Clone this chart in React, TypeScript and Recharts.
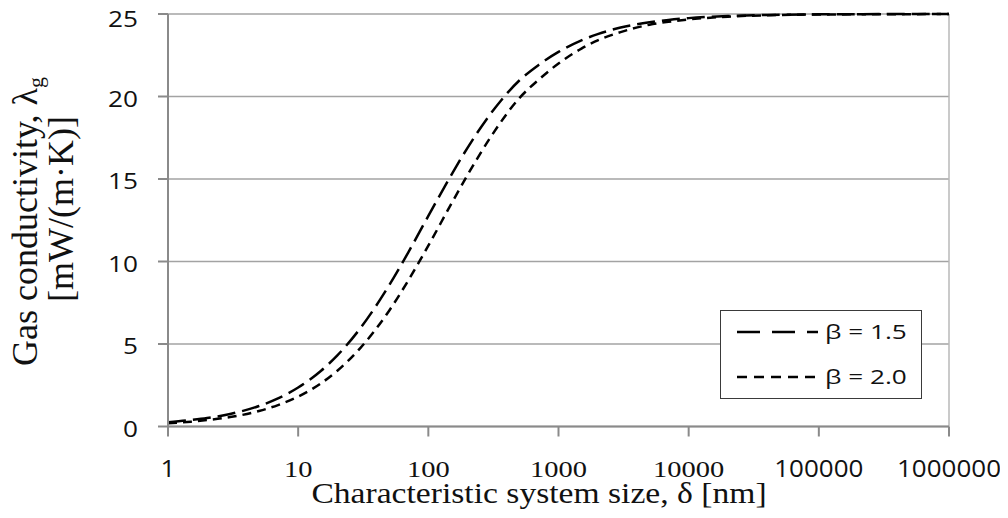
import React from 'react';
import { LineChart, Line, XAxis, YAxis, CartesianGrid, Legend, ReferenceLine } from 'recharts';

// Characteristic system size, δ [nm]
const deltaNm = [1, 1.5, 2, 3, 5, 7, 10, 15, 20, 30, 50, 70, 100, 150, 200, 300, 500, 700, 1000, 1500, 2000, 3000, 5000, 7000, 10000, 20000, 50000, 100000, 200000, 500000, 1000000];
// Gas conductivity, λg [mW/(m·K)]
const lambdaBeta15 = [0.26, 0.39, 0.51, 0.76, 1.24, 1.7, 2.36, 3.38, 4.31, 5.95, 8.56, 10.54, 12.76, 15.24, 16.89, 18.94, 20.97, 21.9, 22.7, 23.4, 23.78, 24.18, 24.5, 24.64, 24.75, 24.88, 24.95, 24.98, 24.99, 25.0, 25.0];
const lambdaBeta20 = [0.19, 0.29, 0.39, 0.57, 0.94, 1.3, 1.81, 2.62, 3.38, 4.75, 7.02, 8.84, 10.96, 13.49, 15.24, 17.52, 19.9, 21.0, 22.0, 22.9, 23.4, 23.9, 24.35, 24.53, 24.67, 24.84, 24.94, 24.97, 24.98, 24.99, 25.0];

const xTicks = [1, 10, 100, 1000, 10000, 100000, 1000000];
const xTickLabels = ['1', '10', '100', '1000', '10000', '100000', '1000000'];
const serifXTicks = [10, 100, 1000, 10000];
const yTicks = [0, 5, 10, 15, 20, 25];
const seriesNames = ['β = 1.5', 'β = 2.0'];

const xTitle = 'Characteristic system size, δ [nm]';
const yTitleLine1 = 'Gas conductivity, λ';
const yTitleSub = 'g';
const yTitleLine2 = '[mW/(m·K)]';

const data = deltaNm.map((d, i) => ({ delta: d, b15: lambdaBeta15[i], b20: lambdaBeta20[i] }));

const SANS = "'Open Sans', 'Liberation Sans', sans-serif";
const SERIF = "'Liberation Serif', 'Times New Roman', serif";

function XTick(props: any) {
  const { x, y, payload } = props;
  const v = payload.value;
  const serif = serifXTicks.indexOf(v) >= 0;
  const idx = xTicks.indexOf(v);
  const label = idx >= 0 ? xTickLabels[idx] : String(v);
  return (
    <g transform={`translate(${x},${y + 40.5}) scale(${serif ? 1.24 : 1.13},1)`}>
      <text x={0} y={0} textAnchor="middle" fontFamily={serif ? SERIF : SANS} fontSize={serif ? 23 : 23} fill="#111">
        {label}
      </text>
    </g>
  );
}

function YTick(props: any) {
  const { x, y, payload } = props;
  return (
    <g transform={`translate(${x},${y + 10}) scale(1.19,1)`}>
      <text x={0} y={0} textAnchor="end" fontFamily={SANS} fontSize={22} fill="#111">
        {String(payload.value)}
      </text>
    </g>
  );
}

function XTitle(props: any) {
  const vb = props.viewBox || { x: 160, y: 418.5, width: 781, height: 60 };
  return (
    <g transform={`translate(${vb.x + 371},${vb.y + 76}) scale(1.12,1)`}>
      <text x={0} y={0} textAnchor="middle" fontFamily={SERIF} fontSize={30} fill="#111">
        {xTitle}
      </text>
    </g>
  );
}

function YTitle(props: any) {
  const vb = props.viewBox || { x: 0, y: 6, width: 160, height: 412.5 };
  return (
    <g>
      <text
        transform={`translate(${vb.x + 29},${vb.y + 207.5}) rotate(-90)`}
        textAnchor="middle"
        fontFamily={SERIF}
        fontSize={36}
        fill="#111"
      >
        {yTitleLine1}
        <tspan fontSize={22} dy={6}>{yTitleSub}</tspan>
      </text>
      <text
        transform={`translate(${vb.x + 65},${vb.y + 195}) rotate(-90)`}
        textAnchor="middle"
        fontFamily={SERIF}
        fontSize={36}
        fill="#111"
      >
        {yTitleLine2}
      </text>
    </g>
  );
}

function LegendBox() {
  return (
    <div
      style={{
        width: 202,
        height: 89,
        boxSizing: 'border-box',
        border: '1.5px solid #3a3a3a',
        background: '#fff',
      }}
    >
      <svg width={199} height={86} style={{ display: 'block' }}>
        <line x1={16} y1={21} x2={97} y2={21} stroke="#000" strokeWidth={2.5} strokeDasharray="23 12" />
        <g transform="translate(104,28) scale(1.31,1)">
          <text x={0} y={0} fontFamily={SANS} fontSize={20} fill="#111">{seriesNames[0]}</text>
        </g>
        <line x1={16} y1={66} x2={97} y2={66} stroke="#000" strokeWidth={2.5} strokeDasharray="10 7" />
        <g transform="translate(104,73) scale(1.31,1)">
          <text x={0} y={0} fontFamily={SANS} fontSize={20} fill="#111">{seriesNames[1]}</text>
        </g>
      </svg>
    </div>
  );
}

export default function App() {
  return (
    <div style={{ width: 1000, height: 510, background: '#fff' }}>
      <LineChart width={1000} height={510} data={data} margin={{ top: 6, right: 59, bottom: 31.5, left: 0 }}>
        <CartesianGrid vertical={false} stroke="#a3a3a3" strokeWidth={1.5} />
        <ReferenceLine x={1000000} stroke="#b8b8b8" strokeWidth={1.5} />
        <XAxis
          dataKey="delta"
          type="number"
          scale="log"
          domain={[1, 1000000]}
          ticks={xTicks}
          height={60}
          tickSize={10}
          tickMargin={0}
          tick={<XTick />}
          axisLine={{ stroke: '#8a8a8a', strokeWidth: 2 }}
          tickLine={{ stroke: '#8a8a8a', strokeWidth: 2 }}
          label={{ value: xTitle, content: <XTitle /> }}
          allowDataOverflow
        />
        <YAxis
          type="number"
          domain={[0, 25]}
          ticks={yTicks}
          width={160}
          tickSize={10}
          tickMargin={20}
          tick={<YTick />}
          axisLine={{ stroke: '#8a8a8a', strokeWidth: 2 }}
          tickLine={{ stroke: '#8a8a8a', strokeWidth: 2 }}
          label={{ value: yTitleLine1, content: <YTitle /> }}
        />
        <Legend
          layout="horizontal"
          verticalAlign="middle"
          align="center"
          content={() => <LegendBox />}
          wrapperStyle={{ left: 712, top: 302, width: 202, height: 89 }}
        />
        <Line
          type="monotone"
          dataKey="b15"
          name={seriesNames[0]}
          stroke="#000"
          strokeWidth={2.5}
          strokeDasharray="18 7"
          dot={false}
          isAnimationActive={false}
        />
        <Line
          type="monotone"
          dataKey="b20"
          name={seriesNames[1]}
          stroke="#000"
          strokeWidth={2.5}
          strokeDasharray="9 6"
          dot={false}
          isAnimationActive={false}
        />
      </LineChart>
    </div>
  );
}
